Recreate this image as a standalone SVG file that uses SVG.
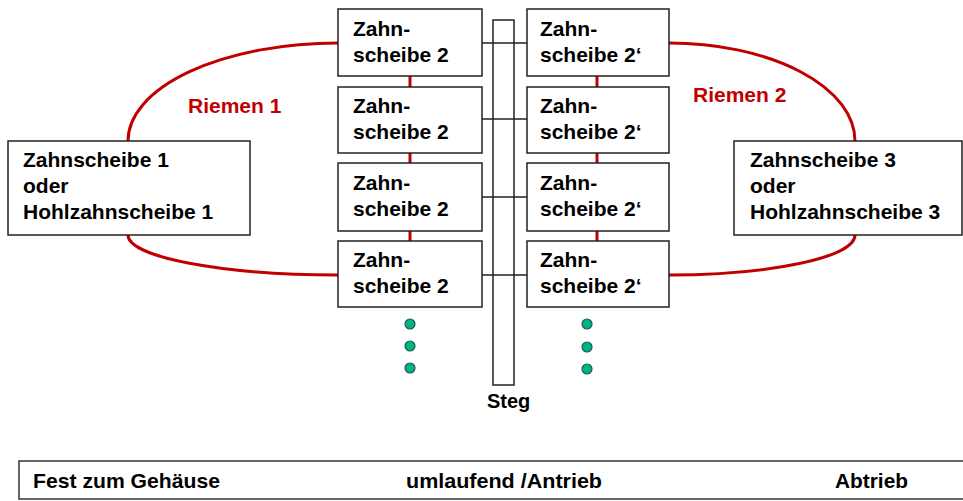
<svg xmlns="http://www.w3.org/2000/svg" width="963" height="501" viewBox="0 0 963 501">
<style>
.box{fill:#fff;stroke:#222;stroke-width:1.5}
.t{font-family:"Liberation Sans",Arial,sans-serif;font-weight:bold;font-size:21px;fill:#000}
.r{font-family:"Liberation Sans",Arial,sans-serif;font-weight:bold;font-size:21px;fill:#c00000}
.b{font-family:"Liberation Sans",Arial,sans-serif;font-weight:bold;font-size:21px;fill:#000}
.belt{fill:none;stroke:#c00000;stroke-width:3}
.link{stroke:#222;stroke-width:1.5}
.dot{fill:#00b386;stroke:#1d5e4f;stroke-width:1.2}
</style>
<rect width="963" height="501" fill="#fff"/>
<g id="connectors">
<path class="belt" d="M128,141 A210,98 0 0 1 338,43"/>
<path class="belt" d="M128,235 A210,40 0 0 0 338,275"/>
<path class="belt" d="M669,43 A186,98 0 0 1 855,141"/>
<path class="belt" d="M855,235 A186,40 0 0 1 669,275"/>
<line class="belt" x1="410" y1="76" x2="410" y2="87"/>
<line class="belt" x1="410" y1="153" x2="410" y2="163"/>
<line class="belt" x1="410" y1="231" x2="410" y2="241"/>
<line class="belt" x1="597" y1="76" x2="597" y2="87"/>
<line class="belt" x1="597" y1="153" x2="597" y2="163"/>
<line class="belt" x1="597" y1="231" x2="597" y2="241"/>
<line class="link" x1="482" y1="43" x2="527" y2="43"/>
<line class="link" x1="482" y1="119" x2="527" y2="119"/>
<line class="link" x1="482" y1="197" x2="527" y2="197"/>
<line class="link" x1="482" y1="275" x2="527" y2="275"/>
</g>
<g id="steg">
<rect class="box" x="493" y="20" width="21" height="365" style="fill:none"/>
<text class="t" x="487" y="408" style="font-size:20px">Steg</text>
</g>
<g id="zs1">
<rect class="box" x="8" y="141" width="242" height="94"/>
<text class="t" x="23" y="167">Zahnscheibe 1</text>
<text class="t" x="23" y="193">oder</text>
<text class="t" x="23" y="219">Hohlzahnscheibe 1</text>
</g>
<g id="zs3">
<rect class="box" x="734" y="141" width="228" height="94"/>
<text class="t" x="750" y="167">Zahnscheibe 3</text>
<text class="t" x="750" y="193">oder</text>
<text class="t" x="750" y="219">Hohlzahnscheibe 3</text>
</g>
<g id="zs2a"><rect class="box" x="338" y="9" width="144" height="67"/><text class="t" x="353" y="36">Zahn-</text><text class="t" x="353" y="62">scheibe 2</text></g>
<g id="zs2b"><rect class="box" x="338" y="87" width="144" height="66"/><text class="t" x="353" y="113">Zahn-</text><text class="t" x="353" y="139">scheibe 2</text></g>
<g id="zs2c"><rect class="box" x="338" y="163" width="144" height="68"/><text class="t" x="353" y="190">Zahn-</text><text class="t" x="353" y="216">scheibe 2</text></g>
<g id="zs2d"><rect class="box" x="338" y="241" width="144" height="66"/><text class="t" x="353" y="267">Zahn-</text><text class="t" x="353" y="293">scheibe 2</text></g>
<g id="zs2pa"><rect class="box" x="527" y="9" width="142" height="67"/><text class="t" x="540" y="36">Zahn-</text><text class="t" x="540" y="62">scheibe 2‘</text></g>
<g id="zs2pb"><rect class="box" x="527" y="87" width="142" height="66"/><text class="t" x="540" y="113">Zahn-</text><text class="t" x="540" y="139">scheibe 2‘</text></g>
<g id="zs2pc"><rect class="box" x="527" y="163" width="142" height="68"/><text class="t" x="540" y="190">Zahn-</text><text class="t" x="540" y="216">scheibe 2‘</text></g>
<g id="zs2pd"><rect class="box" x="527" y="241" width="142" height="66"/><text class="t" x="540" y="267">Zahn-</text><text class="t" x="540" y="293">scheibe 2‘</text></g>
<g id="labels">
<text class="r" x="188" y="113">Riemen 1</text>
<text class="r" x="693" y="102">Riemen 2</text>
</g>
<g id="dots">
<circle class="dot" cx="410" cy="324" r="5"/>
<circle class="dot" cx="410" cy="346" r="5"/>
<circle class="dot" cx="410" cy="368" r="5"/>
<circle class="dot" cx="587" cy="324" r="5"/>
<circle class="dot" cx="587" cy="347" r="5"/>
<circle class="dot" cx="587" cy="369" r="5"/>
</g>
<g id="legend">
<rect x="19" y="461" width="960" height="38" fill="#fff" stroke="#333" stroke-width="1.5"/>
<text class="b" x="33" y="488" textLength="187" lengthAdjust="spacingAndGlyphs">Fest zum Gehäuse</text>
<text class="b" x="406" y="488" textLength="196" lengthAdjust="spacingAndGlyphs">umlaufend /Antrieb</text>
<text class="b" x="835" y="488" textLength="73" lengthAdjust="spacingAndGlyphs">Abtrieb</text>
</g>
</svg>
